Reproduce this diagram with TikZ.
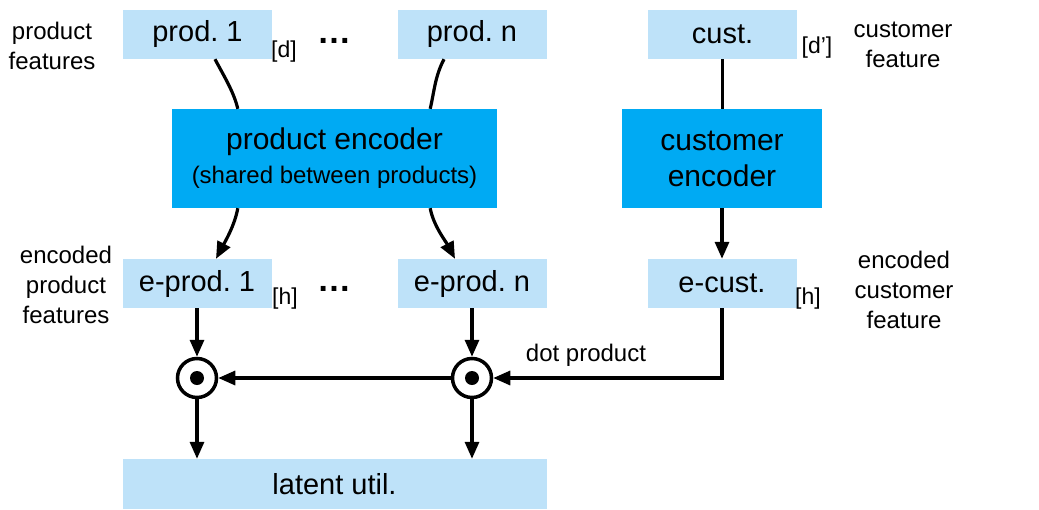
\documentclass[tikz,border=0pt]{standalone}
\usepackage{fontspec}
\setmainfont{Liberation Sans}
\usetikzlibrary{arrows.meta,calc}
\definecolor{lightb}{RGB}{190,226,249}
\definecolor{darkb}{RGB}{0,170,243}
\frenchspacing
\begin{document}
\begin{tikzpicture}[x=1pt,y=-1pt,
  box/.style={fill=lightb, inner sep=0pt, minimum width=149pt, minimum height=49pt, font=\fontsize{29}{34}\selectfont},
  enc/.style={fill=darkb, inner sep=0pt, align=center, font=\fontsize{30}{36}\selectfont},
  side/.style={align=center, font=\fontsize{24}{30}\selectfont, inner sep=0pt},
  dimlab/.style={font=\fontsize{23}{26}\selectfont, inner sep=0pt},
  dotslab/.style={font=\bfseries\fontsize{34}{34}\selectfont, inner sep=0pt},
  conn/.style={line width=3.2pt},
  arr/.style={conn, -{Triangle[length=17pt,width=14pt]}},
  op/.style={circle, draw, line width=3.5pt, minimum size=39pt, inner sep=0pt, fill=white}
]
\useasboundingbox (0,0) rectangle (1039,509);

% boxes
\node[box] (p1) at (197.5,34.5) {prod. 1};
\node[box] (pn) at (472,34.5) {prod. n};
\node[box] (cu) at (722.5,34.5) {cust.};
\node[enc, minimum width=325pt, minimum height=99pt] (penc) at (334.5,158.5)
  {product encoder\\[-2pt]{\fontsize{24}{30}\selectfont (shared between products)}};
\node[enc, minimum width=200pt, minimum height=99pt] (cenc) at (722,158.5)
  {customer\\encoder};
\node[box] (ep1) at (197,283.5) {e-prod. 1};
\node[box] (epn) at (472,283.5) {e-prod. n};
\node[box] (ec) at (722,283.5) {e-cust.};
\node[box, minimum width=424pt, minimum height=50pt] (lat) at (334.5,484) {latent util.};

% operators
\node[op] (c1) at (197,378) {};
\node[op] (cn) at (472,378) {};
\fill (c1.center) circle[radius=7pt];
\fill (cn.center) circle[radius=7pt];

% labels
\node[side] (lpf) at (52,46) {product\\features};
\node[dimlab] (ld) at (284,52) {[d]};
\node[dotslab] (dt1) at (334,41) {…};
\node[dimlab] (ldp) at (817,48) {[d’]};
\node[side] (lcf) at (903,45) {customer\\feature};
\node[side] (lepf) at (66,285) {encoded\\product\\features};
\node[dimlab] (lh1) at (285,299) {[h]};
\node[dotslab] (dt2) at (334,289) {…};
\node[dimlab] (lh2) at (808,299) {[h]};
\node[side] (lecf) at (904,290) {encoded\\customer\\feature};
\node[side] (ldot) at (586,355) {dot product};

% connectors
\draw[conn] ($(p1.south)+(17.5,0)$) .. controls +(9,17) and +(-4,-17) .. ($(penc.north west)+(66,0)$);
\draw[conn] ($(pn.south)+(-28,0)$) .. controls +(-9,17) and +(4,-17) .. ($(penc.north east)+(-67,0)$);
\draw[arr] ($(penc.south west)+(66,0)$) .. controls +(-3,17) and +(9,-17) .. ($(ep1.north)+(19,0)$);
\draw[arr] ($(penc.south east)+(-67,0)$) .. controls +(3,17) and +(-9,-17) .. ($(epn.north)+(-17,0)$);
\draw[conn] (cu.south) -- (cu.south |- cenc.north);
\draw[arr] (cenc.south) -- (ec.north);
\draw[arr] (ec.south) -- (ec.south |- cn) -- (cn);
\draw[arr] (ep1.south) -- (c1);
\draw[arr] (epn.south) -- (cn);
\draw[arr] (cn) -- (c1);
\draw[arr] (c1) -- (c1 |- lat.north);
\draw[arr] (cn) -- (cn |- lat.north);
\end{tikzpicture}
\end{document}
